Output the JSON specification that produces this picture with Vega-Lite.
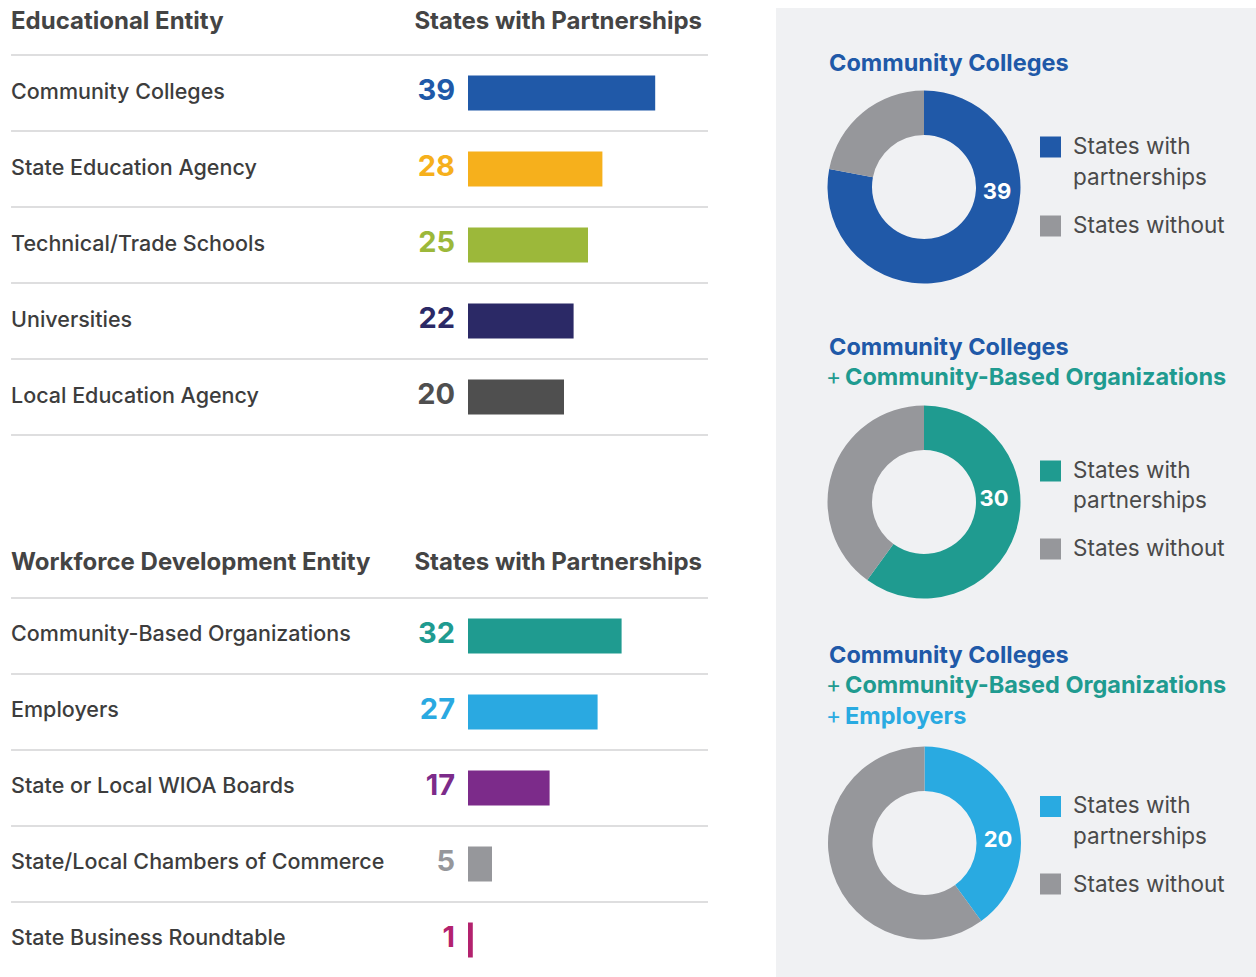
{
  "$schema": "https://vega.github.io/schema/vega-lite/v6.json",
  "padding": 0,
  "background": "white",
  "config": {"view": {"stroke": null}, "font": "Inter"},
  "datasets": {
    "edu": [
      {"rank": 1, "entity": "Community Colleges", "states": 39},
      {"rank": 2, "entity": "State Education Agency", "states": 28},
      {"rank": 3, "entity": "Technical/Trade Schools", "states": 25},
      {"rank": 4, "entity": "Universities", "states": 22},
      {"rank": 5, "entity": "Local Education Agency", "states": 20}
    ],
    "work": [
      {"rank": 1, "entity": "Community-Based Organizations", "states": 32},
      {"rank": 2, "entity": "Employers", "states": 27},
      {"rank": 3, "entity": "State or Local WIOA Boards", "states": 17},
      {"rank": 4, "entity": "State/Local Chambers of Commerce", "states": 5},
      {"rank": 5, "entity": "State Business Roundtable", "states": 1}
    ],
    "donuts": [
      {"panel": 1, "status": "States with partnerships", "value": 39},
      {"panel": 1, "status": "States without", "value": 11},
      {"panel": 2, "status": "States with partnerships", "value": 30},
      {"panel": 2, "status": "States without", "value": 20},
      {"panel": 3, "status": "States with partnerships", "value": 20},
      {"panel": 3, "status": "States without", "value": 30}
    ]
  },
  "resolve": {"scale": {"color": "independent"}},
  "spacing": 67,
  "hconcat": [
    {
      "resolve": {"scale": {"color": "independent"}},
      "spacing": 106,
      "vconcat": [
        {
          "width": 708, "height": 437,
          "data": {"name": "edu"},
          "layer": [
            {"data": {"values": [{}]}, "mark": {"type": "rule", "color": "#d3d3d5", "strokeWidth": 1.5, "yOffset": 38},
             "encoding": {"x": {"datum": -95.2, "type": "quantitative", "scale": {"domain": [-97.5, 50], "nice": false, "zero": false, "padding": 0}, "axis": null}, "x2": {"datum": 50},
                          "y": {"datum": 0, "type": "quantitative", "scale": {"domain": [-0.2237, 5.5263], "nice": false, "zero": false, "padding": 0, "reverse": true}, "axis": null}}},
            {"mark": {"type": "rule", "color": "#d3d3d5", "strokeWidth": 1.5, "yOffset": 38},
             "encoding": {"x": {"datum": -95.2, "type": "quantitative", "scale": {"domain": [-97.5, 50], "nice": false, "zero": false, "padding": 0}, "axis": null}, "x2": {"datum": 50},
                          "y": {"field": "rank", "type": "quantitative", "scale": {"domain": [-0.2237, 5.5263], "nice": false, "zero": false, "padding": 0, "reverse": true}, "axis": null}}},
            {"data": {"values": [{}]}, "mark": {"type": "text", "text": "Educational Entity", "align": "left", "baseline": "middle", "fontSize": 24, "fontWeight": "bold", "color": "#444444", "dy": 5},
             "encoding": {"x": {"datum": -95.2, "type": "quantitative", "scale": {"domain": [-97.5, 50], "nice": false, "zero": false, "padding": 0}, "axis": null},
                          "y": {"datum": 0, "type": "quantitative", "scale": {"domain": [-0.2237, 5.5263], "nice": false, "zero": false, "padding": 0, "reverse": true}, "axis": null}}},
            {"data": {"values": [{}]}, "mark": {"type": "text", "text": "States with Partnerships", "align": "right", "baseline": "middle", "fontSize": 24, "fontWeight": "bold", "color": "#444444", "dy": 5},
             "encoding": {"x": {"datum": 48.75, "type": "quantitative", "scale": {"domain": [-97.5, 50], "nice": false, "zero": false, "padding": 0}, "axis": null},
                          "y": {"datum": 0, "type": "quantitative", "scale": {"domain": [-0.2237, 5.5263], "nice": false, "zero": false, "padding": 0, "reverse": true}, "axis": null}}},
            {"mark": {"type": "text", "align": "left", "baseline": "middle", "fontSize": 21.5, "fontWeight": 500, "color": "#3d3d3d", "dy": 0},
             "encoding": {"x": {"datum": -95.2, "type": "quantitative", "scale": {"domain": [-97.5, 50], "nice": false, "zero": false, "padding": 0}, "axis": null},
                          "y": {"field": "rank", "type": "quantitative", "scale": {"domain": [-0.2237, 5.5263], "nice": false, "zero": false, "padding": 0, "reverse": true}, "axis": null},
                          "text": {"field": "entity"}}},
            {"mark": {"type": "text", "align": "right", "baseline": "middle", "fontSize": 29, "fontWeight": "bold", "dx": -13, "dy": -2},
             "encoding": {"x": {"datum": 0, "type": "quantitative", "scale": {"domain": [-97.5, 50], "nice": false, "zero": false, "padding": 0}, "axis": null},
                          "y": {"field": "rank", "type": "quantitative", "scale": {"domain": [-0.2237, 5.5263], "nice": false, "zero": false, "padding": 0, "reverse": true}, "axis": null},
                          "text": {"field": "states"},
                          "color": {"field": "entity", "type": "nominal", "legend": null,
                                    "scale": {"domain": ["Community Colleges", "State Education Agency", "Technical/Trade Schools", "Universities", "Local Education Agency"],
                                              "range": ["#2059a8", "#f6b01c", "#9cb83a", "#2b2966", "#4f4f4f"]}}}},
            {"mark": {"type": "bar", "height": 35},
             "encoding": {"x": {"field": "states", "type": "quantitative", "scale": {"domain": [-97.5, 50], "nice": false, "zero": false, "padding": 0}, "axis": null},
                          "x2": {"datum": 0},
                          "y": {"field": "rank", "type": "quantitative", "scale": {"domain": [-0.2237, 5.5263], "nice": false, "zero": false, "padding": 0, "reverse": true}, "axis": null},
                          "color": {"field": "entity", "type": "nominal", "legend": null,
                                    "scale": {"domain": ["Community Colleges", "State Education Agency", "Technical/Trade Schools", "Universities", "Local Education Agency"],
                                              "range": ["#2059a8", "#f6b01c", "#9cb83a", "#2b2966", "#4f4f4f"]}}}}
          ]
        },
        {
          "width": 708, "height": 437,
          "data": {"name": "work"},
          "layer": [
            {"data": {"values": [{}]}, "mark": {"type": "rule", "color": "#d3d3d5", "strokeWidth": 1.5, "yOffset": 38},
             "encoding": {"x": {"datum": -95.2, "type": "quantitative", "scale": {"domain": [-97.5, 50], "nice": false, "zero": false, "padding": 0}, "axis": null}, "x2": {"datum": 50},
                          "y": {"datum": 0, "type": "quantitative", "scale": {"domain": [-0.2237, 5.5263], "nice": false, "zero": false, "padding": 0, "reverse": true}, "axis": null}}},
            {"transform": [{"filter": "datum.rank < 5"}],
             "mark": {"type": "rule", "color": "#d3d3d5", "strokeWidth": 1.5, "yOffset": 38},
             "encoding": {"x": {"datum": -95.2, "type": "quantitative", "scale": {"domain": [-97.5, 50], "nice": false, "zero": false, "padding": 0}, "axis": null}, "x2": {"datum": 50},
                          "y": {"field": "rank", "type": "quantitative", "scale": {"domain": [-0.2237, 5.5263], "nice": false, "zero": false, "padding": 0, "reverse": true}, "axis": null}}},
            {"data": {"values": [{}]}, "mark": {"type": "text", "text": "Workforce Development Entity", "align": "left", "baseline": "middle", "fontSize": 24, "fontWeight": "bold", "color": "#444444", "dy": 3},
             "encoding": {"x": {"datum": -95.2, "type": "quantitative", "scale": {"domain": [-97.5, 50], "nice": false, "zero": false, "padding": 0}, "axis": null},
                          "y": {"datum": 0, "type": "quantitative", "scale": {"domain": [-0.2237, 5.5263], "nice": false, "zero": false, "padding": 0, "reverse": true}, "axis": null}}},
            {"data": {"values": [{}]}, "mark": {"type": "text", "text": "States with Partnerships", "align": "right", "baseline": "middle", "fontSize": 24, "fontWeight": "bold", "color": "#444444", "dy": 3},
             "encoding": {"x": {"datum": 48.75, "type": "quantitative", "scale": {"domain": [-97.5, 50], "nice": false, "zero": false, "padding": 0}, "axis": null},
                          "y": {"datum": 0, "type": "quantitative", "scale": {"domain": [-0.2237, 5.5263], "nice": false, "zero": false, "padding": 0, "reverse": true}, "axis": null}}},
            {"mark": {"type": "text", "align": "left", "baseline": "middle", "fontSize": 21.5, "fontWeight": 500, "color": "#3d3d3d", "dy": -1},
             "encoding": {"x": {"datum": -95.2, "type": "quantitative", "scale": {"domain": [-97.5, 50], "nice": false, "zero": false, "padding": 0}, "axis": null},
                          "y": {"field": "rank", "type": "quantitative", "scale": {"domain": [-0.2237, 5.5263], "nice": false, "zero": false, "padding": 0, "reverse": true}, "axis": null},
                          "text": {"field": "entity"}}},
            {"mark": {"type": "text", "align": "right", "baseline": "middle", "fontSize": 29, "fontWeight": "bold", "dx": -13, "dy": -2},
             "encoding": {"x": {"datum": 0, "type": "quantitative", "scale": {"domain": [-97.5, 50], "nice": false, "zero": false, "padding": 0}, "axis": null},
                          "y": {"field": "rank", "type": "quantitative", "scale": {"domain": [-0.2237, 5.5263], "nice": false, "zero": false, "padding": 0, "reverse": true}, "axis": null},
                          "text": {"field": "states"},
                          "color": {"field": "entity", "type": "nominal", "legend": null,
                                    "scale": {"domain": ["Community-Based Organizations", "Employers", "State or Local WIOA Boards", "State/Local Chambers of Commerce", "State Business Roundtable"],
                                              "range": ["#1f9b90", "#2aa9e1", "#7c2b8a", "#96979b", "#b3226e"]}}}},
            {"mark": {"type": "bar", "height": 35},
             "encoding": {"x": {"field": "states", "type": "quantitative", "scale": {"domain": [-97.5, 50], "nice": false, "zero": false, "padding": 0}, "axis": null},
                          "x2": {"datum": 0},
                          "y": {"field": "rank", "type": "quantitative", "scale": {"domain": [-0.2237, 5.5263], "nice": false, "zero": false, "padding": 0, "reverse": true}, "axis": null},
                          "color": {"field": "entity", "type": "nominal", "legend": null,
                                    "scale": {"domain": ["Community-Based Organizations", "Employers", "State or Local WIOA Boards", "State/Local Chambers of Commerce", "State Business Roundtable"],
                                              "range": ["#1f9b90", "#2aa9e1", "#7c2b8a", "#96979b", "#b3226e"]}}}}
          ]
        }
      ]
    },
    {
      "resolve": {"scale": {"color": "independent"}},
      "spacing": 0,
      "vconcat": [
        {"width": 481, "height": 8, "data": {"values": [{}]}, "mark": {"type": "point", "opacity": 0}, "encoding": {}},
        {
          "width": 481, "height": 312,
          "view": {"fill": "#f0f1f3", "stroke": null},
          "layer": [
            {"data": {"name": "donuts"}, "transform": [{"filter": "datum.panel == 1"}],
             "mark": {"type": "arc", "innerRadius": 52, "outerRadius": 96.5},
             "encoding": {
               "x": {"datum": 148, "type": "quantitative", "scale": {"domain": [0, 481], "nice": false, "zero": false}, "axis": null},
               "y": {"datum": 179, "type": "quantitative", "scale": {"domain": [0, 312], "nice": false, "zero": false, "reverse": true}, "axis": null},
               "theta": {"field": "value", "type": "quantitative"},
               "order": {"field": "status", "type": "ordinal"},
               "color": {"field": "status", "type": "nominal", "legend": null, "scale": {"domain": ["States with partnerships", "States without"], "range": ["#2059a8", "#96979b"]}}}},
            {"data": {"name": "donuts"}, "transform": [{"filter": "datum.panel == 1 && datum.status == 'States with partnerships'"}],
             "mark": {"type": "text", "color": "white", "fontWeight": "bold", "fontSize": 22, "align": "center", "baseline": "middle"},
             "encoding": {
               "x": {"datum": 221, "type": "quantitative", "scale": {"domain": [0, 481], "nice": false, "zero": false}, "axis": null},
               "y": {"datum": 184, "type": "quantitative", "scale": {"domain": [0, 312], "nice": false, "zero": false, "reverse": true}, "axis": null},
               "text": {"field": "value"}}},
            {"data": {"values": [{}]}, "mark": {"type": "text", "text": "Community Colleges", "align": "left", "baseline": "middle", "fontSize": 23.5, "fontWeight": "bold", "color": "#2059a8"},
             "encoding": {"x": {"datum": 53, "type": "quantitative", "scale": {"domain": [0, 481], "nice": false, "zero": false}, "axis": null},
                          "y": {"datum": 56, "type": "quantitative", "scale": {"domain": [0, 312], "nice": false, "zero": false, "reverse": true}, "axis": null}}},
            {"data": {"values": [{}]}, "mark": {"type": "square", "size": 441, "color": "#2059a8", "filled": true, "opacity": 1},
             "encoding": {"x": {"datum": 274.5, "type": "quantitative", "scale": {"domain": [0, 481], "nice": false, "zero": false}, "axis": null},
                          "y": {"datum": 139, "type": "quantitative", "scale": {"domain": [0, 312], "nice": false, "zero": false, "reverse": true}, "axis": null}}},
            {"data": {"values": [{}]}, "mark": {"type": "square", "size": 441, "color": "#96979b", "filled": true, "opacity": 1},
             "encoding": {"x": {"datum": 274.5, "type": "quantitative", "scale": {"domain": [0, 481], "nice": false, "zero": false}, "axis": null},
                          "y": {"datum": 218, "type": "quantitative", "scale": {"domain": [0, 312], "nice": false, "zero": false, "reverse": true}, "axis": null}}},
            {"data": {"values": [{}]}, "mark": {"type": "text", "text": "States with", "align": "left", "baseline": "middle", "fontSize": 22.5, "color": "#4a4a4a"},
             "encoding": {"x": {"datum": 297, "type": "quantitative", "scale": {"domain": [0, 481], "nice": false, "zero": false}, "axis": null},
                          "y": {"datum": 139, "type": "quantitative", "scale": {"domain": [0, 312], "nice": false, "zero": false, "reverse": true}, "axis": null}}},
            {"data": {"values": [{}]}, "mark": {"type": "text", "text": "partnerships", "align": "left", "baseline": "middle", "fontSize": 22.5, "color": "#4a4a4a"},
             "encoding": {"x": {"datum": 297, "type": "quantitative", "scale": {"domain": [0, 481], "nice": false, "zero": false}, "axis": null},
                          "y": {"datum": 170, "type": "quantitative", "scale": {"domain": [0, 312], "nice": false, "zero": false, "reverse": true}, "axis": null}}},
            {"data": {"values": [{}]}, "mark": {"type": "text", "text": "States without", "align": "left", "baseline": "middle", "fontSize": 22.5, "color": "#4a4a4a"},
             "encoding": {"x": {"datum": 297, "type": "quantitative", "scale": {"domain": [0, 481], "nice": false, "zero": false}, "axis": null},
                          "y": {"datum": 218, "type": "quantitative", "scale": {"domain": [0, 312], "nice": false, "zero": false, "reverse": true}, "axis": null}}}
          ]
        },
        {
          "width": 481, "height": 310,
          "view": {"fill": "#f0f1f3", "stroke": null},
          "layer": [
            {"data": {"name": "donuts"}, "transform": [{"filter": "datum.panel == 2"}],
             "mark": {"type": "arc", "innerRadius": 52, "outerRadius": 96.5},
             "encoding": {
               "x": {"datum": 148, "type": "quantitative", "scale": {"domain": [0, 481], "nice": false, "zero": false}, "axis": null},
               "y": {"datum": 182, "type": "quantitative", "scale": {"domain": [0, 310], "nice": false, "zero": false, "reverse": true}, "axis": null},
               "theta": {"field": "value", "type": "quantitative"},
               "order": {"field": "status", "type": "ordinal"},
               "color": {"field": "status", "type": "nominal", "legend": null, "scale": {"domain": ["States with partnerships", "States without"], "range": ["#1f9b90", "#96979b"]}}}},
            {"data": {"name": "donuts"}, "transform": [{"filter": "datum.panel == 2 && datum.status == 'States with partnerships'"}],
             "mark": {"type": "text", "color": "white", "fontWeight": "bold", "fontSize": 22, "align": "center", "baseline": "middle"},
             "encoding": {
               "x": {"datum": 218, "type": "quantitative", "scale": {"domain": [0, 481], "nice": false, "zero": false}, "axis": null},
               "y": {"datum": 179, "type": "quantitative", "scale": {"domain": [0, 310], "nice": false, "zero": false, "reverse": true}, "axis": null},
               "text": {"field": "value"}}},
            {"data": {"values": [{}]}, "mark": {"type": "text", "text": "Community Colleges", "align": "left", "baseline": "middle", "fontSize": 23.5, "fontWeight": "bold", "color": "#2059a8"},
             "encoding": {"x": {"datum": 53, "type": "quantitative", "scale": {"domain": [0, 481], "nice": false, "zero": false}, "axis": null},
                          "y": {"datum": 28, "type": "quantitative", "scale": {"domain": [0, 310], "nice": false, "zero": false, "reverse": true}, "axis": null}}},
            {"data": {"values": [{}]}, "mark": {"type": "text", "text": "+", "align": "left", "baseline": "middle", "fontSize": 23, "color": "#1f9b90"},
             "encoding": {"x": {"datum": 50, "type": "quantitative", "scale": {"domain": [0, 481], "nice": false, "zero": false}, "axis": null},
                          "y": {"datum": 58, "type": "quantitative", "scale": {"domain": [0, 310], "nice": false, "zero": false, "reverse": true}, "axis": null}}},
            {"data": {"values": [{}]}, "mark": {"type": "text", "text": "Community-Based Organizations", "align": "left", "baseline": "middle", "fontSize": 23.5, "fontWeight": "bold", "color": "#1f9b90"},
             "encoding": {"x": {"datum": 69, "type": "quantitative", "scale": {"domain": [0, 481], "nice": false, "zero": false}, "axis": null},
                          "y": {"datum": 58, "type": "quantitative", "scale": {"domain": [0, 310], "nice": false, "zero": false, "reverse": true}, "axis": null}}},
            {"data": {"values": [{}]}, "mark": {"type": "square", "size": 441, "color": "#1f9b90", "filled": true, "opacity": 1},
             "encoding": {"x": {"datum": 274.5, "type": "quantitative", "scale": {"domain": [0, 481], "nice": false, "zero": false}, "axis": null},
                          "y": {"datum": 151, "type": "quantitative", "scale": {"domain": [0, 310], "nice": false, "zero": false, "reverse": true}, "axis": null}}},
            {"data": {"values": [{}]}, "mark": {"type": "square", "size": 441, "color": "#96979b", "filled": true, "opacity": 1},
             "encoding": {"x": {"datum": 274.5, "type": "quantitative", "scale": {"domain": [0, 481], "nice": false, "zero": false}, "axis": null},
                          "y": {"datum": 229, "type": "quantitative", "scale": {"domain": [0, 310], "nice": false, "zero": false, "reverse": true}, "axis": null}}},
            {"data": {"values": [{}]}, "mark": {"type": "text", "text": "States with", "align": "left", "baseline": "middle", "fontSize": 22.5, "color": "#4a4a4a"},
             "encoding": {"x": {"datum": 297, "type": "quantitative", "scale": {"domain": [0, 481], "nice": false, "zero": false}, "axis": null},
                          "y": {"datum": 151, "type": "quantitative", "scale": {"domain": [0, 310], "nice": false, "zero": false, "reverse": true}, "axis": null}}},
            {"data": {"values": [{}]}, "mark": {"type": "text", "text": "partnerships", "align": "left", "baseline": "middle", "fontSize": 22.5, "color": "#4a4a4a"},
             "encoding": {"x": {"datum": 297, "type": "quantitative", "scale": {"domain": [0, 481], "nice": false, "zero": false}, "axis": null},
                          "y": {"datum": 181, "type": "quantitative", "scale": {"domain": [0, 310], "nice": false, "zero": false, "reverse": true}, "axis": null}}},
            {"data": {"values": [{}]}, "mark": {"type": "text", "text": "States without", "align": "left", "baseline": "middle", "fontSize": 22.5, "color": "#4a4a4a"},
             "encoding": {"x": {"datum": 297, "type": "quantitative", "scale": {"domain": [0, 481], "nice": false, "zero": false}, "axis": null},
                          "y": {"datum": 229, "type": "quantitative", "scale": {"domain": [0, 310], "nice": false, "zero": false, "reverse": true}, "axis": null}}}
          ]
        },
        {
          "width": 481, "height": 347,
          "view": {"fill": "#f0f1f3", "stroke": null},
          "layer": [
            {"data": {"name": "donuts"}, "transform": [{"filter": "datum.panel == 3"}],
             "mark": {"type": "arc", "innerRadius": 52, "outerRadius": 96.5},
             "encoding": {
               "x": {"datum": 148.5, "type": "quantitative", "scale": {"domain": [0, 481], "nice": false, "zero": false}, "axis": null},
               "y": {"datum": 213, "type": "quantitative", "scale": {"domain": [0, 347], "nice": false, "zero": false, "reverse": true}, "axis": null},
               "theta": {"field": "value", "type": "quantitative"},
               "order": {"field": "status", "type": "ordinal"},
               "color": {"field": "status", "type": "nominal", "legend": null, "scale": {"domain": ["States with partnerships", "States without"], "range": ["#29aae1", "#96979b"]}}}},
            {"data": {"name": "donuts"}, "transform": [{"filter": "datum.panel == 3 && datum.status == 'States with partnerships'"}],
             "mark": {"type": "text", "color": "white", "fontWeight": "bold", "fontSize": 22, "align": "center", "baseline": "middle"},
             "encoding": {
               "x": {"datum": 222, "type": "quantitative", "scale": {"domain": [0, 481], "nice": false, "zero": false}, "axis": null},
               "y": {"datum": 210, "type": "quantitative", "scale": {"domain": [0, 347], "nice": false, "zero": false, "reverse": true}, "axis": null},
               "text": {"field": "value"}}},
            {"data": {"values": [{}]}, "mark": {"type": "text", "text": "Community Colleges", "align": "left", "baseline": "middle", "fontSize": 23.5, "fontWeight": "bold", "color": "#2059a8"},
             "encoding": {"x": {"datum": 53, "type": "quantitative", "scale": {"domain": [0, 481], "nice": false, "zero": false}, "axis": null},
                          "y": {"datum": 26, "type": "quantitative", "scale": {"domain": [0, 347], "nice": false, "zero": false, "reverse": true}, "axis": null}}},
            {"data": {"values": [{}]}, "mark": {"type": "text", "text": "+", "align": "left", "baseline": "middle", "fontSize": 23, "color": "#1f9b90"},
             "encoding": {"x": {"datum": 50, "type": "quantitative", "scale": {"domain": [0, 481], "nice": false, "zero": false}, "axis": null},
                          "y": {"datum": 56, "type": "quantitative", "scale": {"domain": [0, 347], "nice": false, "zero": false, "reverse": true}, "axis": null}}},
            {"data": {"values": [{}]}, "mark": {"type": "text", "text": "Community-Based Organizations", "align": "left", "baseline": "middle", "fontSize": 23.5, "fontWeight": "bold", "color": "#1f9b90"},
             "encoding": {"x": {"datum": 69, "type": "quantitative", "scale": {"domain": [0, 481], "nice": false, "zero": false}, "axis": null},
                          "y": {"datum": 56, "type": "quantitative", "scale": {"domain": [0, 347], "nice": false, "zero": false, "reverse": true}, "axis": null}}},
            {"data": {"values": [{}]}, "mark": {"type": "text", "text": "+", "align": "left", "baseline": "middle", "fontSize": 23, "color": "#29aae1"},
             "encoding": {"x": {"datum": 50, "type": "quantitative", "scale": {"domain": [0, 481], "nice": false, "zero": false}, "axis": null},
                          "y": {"datum": 87, "type": "quantitative", "scale": {"domain": [0, 347], "nice": false, "zero": false, "reverse": true}, "axis": null}}},
            {"data": {"values": [{}]}, "mark": {"type": "text", "text": "Employers", "align": "left", "baseline": "middle", "fontSize": 23.5, "fontWeight": "bold", "color": "#29aae1"},
             "encoding": {"x": {"datum": 69, "type": "quantitative", "scale": {"domain": [0, 481], "nice": false, "zero": false}, "axis": null},
                          "y": {"datum": 87, "type": "quantitative", "scale": {"domain": [0, 347], "nice": false, "zero": false, "reverse": true}, "axis": null}}},
            {"data": {"values": [{}]}, "mark": {"type": "square", "size": 441, "color": "#29aae1", "filled": true, "opacity": 1},
             "encoding": {"x": {"datum": 274.5, "type": "quantitative", "scale": {"domain": [0, 481], "nice": false, "zero": false}, "axis": null},
                          "y": {"datum": 176.5, "type": "quantitative", "scale": {"domain": [0, 347], "nice": false, "zero": false, "reverse": true}, "axis": null}}},
            {"data": {"values": [{}]}, "mark": {"type": "square", "size": 441, "color": "#96979b", "filled": true, "opacity": 1},
             "encoding": {"x": {"datum": 274.5, "type": "quantitative", "scale": {"domain": [0, 481], "nice": false, "zero": false}, "axis": null},
                          "y": {"datum": 254, "type": "quantitative", "scale": {"domain": [0, 347], "nice": false, "zero": false, "reverse": true}, "axis": null}}},
            {"data": {"values": [{}]}, "mark": {"type": "text", "text": "States with", "align": "left", "baseline": "middle", "fontSize": 22.5, "color": "#4a4a4a"},
             "encoding": {"x": {"datum": 297, "type": "quantitative", "scale": {"domain": [0, 481], "nice": false, "zero": false}, "axis": null},
                          "y": {"datum": 176, "type": "quantitative", "scale": {"domain": [0, 347], "nice": false, "zero": false, "reverse": true}, "axis": null}}},
            {"data": {"values": [{}]}, "mark": {"type": "text", "text": "partnerships", "align": "left", "baseline": "middle", "fontSize": 22.5, "color": "#4a4a4a"},
             "encoding": {"x": {"datum": 297, "type": "quantitative", "scale": {"domain": [0, 481], "nice": false, "zero": false}, "axis": null},
                          "y": {"datum": 207, "type": "quantitative", "scale": {"domain": [0, 347], "nice": false, "zero": false, "reverse": true}, "axis": null}}},
            {"data": {"values": [{}]}, "mark": {"type": "text", "text": "States without", "align": "left", "baseline": "middle", "fontSize": 22.5, "color": "#4a4a4a"},
             "encoding": {"x": {"datum": 297, "type": "quantitative", "scale": {"domain": [0, 481], "nice": false, "zero": false}, "axis": null},
                          "y": {"datum": 255, "type": "quantitative", "scale": {"domain": [0, 347], "nice": false, "zero": false, "reverse": true}, "axis": null}}}
          ]
        }
      ]
    }
  ]
}
